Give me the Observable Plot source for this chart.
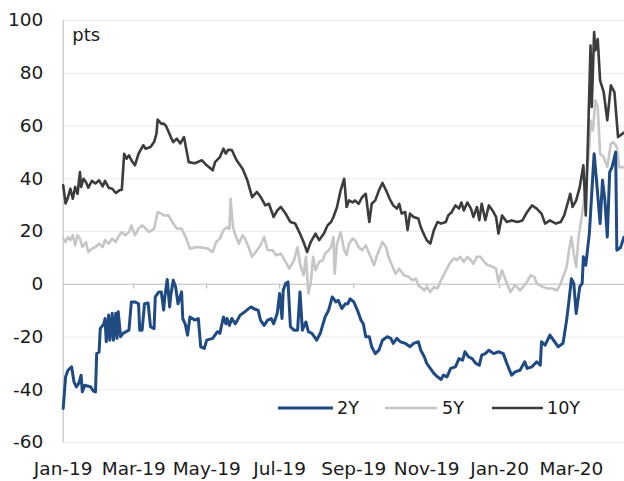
<!DOCTYPE html>
<html>
<head>
<meta charset="utf-8">
<script src="https://cdn.jsdelivr.net/npm/d3@7"></script>
<script src="https://cdn.jsdelivr.net/npm/@observablehq/plot@0.6"></script>
<style>
  html, body { margin: 0; padding: 0; background: #fff; }
  #chart { width: 624px; height: 481px; }
</style>
</head>
<body>
<div id="chart"></div>
<script>
// [day offset from 2019-01-01, spread in pts]
const startDate = "2019-01-01";
const endDay = 469.4;

const series10Y = [[0,37.5],[2,30.6],[4,33],[6,36.2],[8,32.4],[10,36.9],[12,34.3],[14,42.5],[15,36.9],[17,40],[19,38.8],[21,36.6],[24,39.2],[27,38.2],[30,39.4],[33,37.1],[35,39.2],[38,36.6],[41,36.2],[44,34.6],[47,35.6],[49,35.8],[51,49.5],[53,47.6],[55,48.9],[57,47],[60,45.1],[63,49.5],[67,52.7],[69,51.4],[73,52],[76,53.9],[78,57.1],[79,62.4],[82,60.9],[84,60.9],[86,60],[90,55.8],[92,53.9],[95,55.2],[98,53.4],[101,55.8],[105,46.3],[110,45.9],[116,47],[120,45.1],[125,43.2],[127,46.3],[131,48.2],[134,51.4],[136,49.5],[138,51],[141,50.9],[145,47],[150,43.8],[154,39.4],[158,33],[162,35],[165,33.2],[169,29.9],[172,30.5],[176,25.5],[179,28],[182,29.3],[186,26.8],[190,23.6],[194,23],[198,19.2],[201,16],[204,12.2],[207,16],[211,19.2],[214,16.7],[218,19.2],[221,22.3],[224,23.6],[226,25.5],[229,29.3],[232,35.6],[235,40],[237,29.3],[239,31.8],[242,31],[244,31.8],[247,30.5],[250,33],[253,34.3],[256,23.6],[258,30.5],[261,31.8],[264,35.6],[267,38.4],[270,35.6],[273,32.4],[276,29.9],[279,28.7],[281,30.5],[283,26.8],[286,27.4],[288,20.5],[290,26.8],[293,25.5],[297,24.9],[299,21.7],[302,18.6],[304,16.7],[307,15.4],[310,20.5],[313,23.6],[316,23],[320,23.6],[322,26.1],[325,27.4],[328,29.9],[331,28.7],[333,31],[335,28],[338,31],[341,28.7],[343,25.5],[346,29.3],[348,24.3],[350,30.5],[353,24.3],[356,29.9],[359,28],[362,25.5],[364,19.2],[367,26.1],[371,23.6],[375,24.2],[380,23.6],[384,24.2],[388,27.4],[392,29.9],[396,28.7],[400,26.8],[403,23],[407,24.2],[412,23],[416,23.6],[419,26.1],[421,29.3],[424,34.3],[426,29.3],[429,31.8],[432,36.9],[435,45.1],[437,26.1],[439,57.1],[441,90.5],[442,67.2],[444,95.6],[445,88.6],[447,93],[449,77.3],[452,72.8],[455,62.1],[458,75.4],[461,72.8],[464,55.8],[469,57.5]];

const series5Y = [[0,17.3],[2,16],[4,17.9],[6,16.7],[8,18.6],[10,14.8],[12,18.6],[14,17.3],[16,14.1],[19,16],[21,12.2],[24,13.5],[27,14.1],[30,15.4],[33,14.1],[35,16.7],[38,15.4],[41,17.3],[44,16],[46,17.9],[49,19.8],[52,18.6],[55,19.8],[57,22.3],[60,18.6],[63,21.1],[66,22.3],[69,21.1],[72,19.8],[76,21.1],[79,27.4],[82,26.8],[84,26.1],[88,26.1],[92,23],[95,21.1],[99,21.1],[103,17.3],[106,13.5],[112,14.1],[116,13.9],[121,13.5],[125,12.2],[128,16],[131,17.3],[134,20.5],[137,21.7],[139,21],[140,32.4],[142,21.7],[144,18.6],[147,15.4],[150,18.6],[152,17.3],[155,14.1],[158,10.4],[162,12.9],[165,14.8],[168,17.9],[171,12.9],[175,12.9],[178,11],[182,11.6],[186,8.5],[189,5.9],[193,9.1],[196,14.1],[198,7.8],[201,3.4],[203,10.4],[205,-3.5],[207,0.3],[209,10.4],[211,5.3],[214,8.5],[217,9.1],[219,11.6],[222,12.9],[224,14.1],[226,17.9],[227,4],[229,15.4],[232,19.8],[235,12.9],[237,11],[239,15.4],[242,17.3],[244,16.7],[247,14.1],[250,12.9],[253,14.8],[256,11.6],[260,7.2],[262,10.4],[267,16],[270,14.1],[272,10.4],[275,7.2],[278,4],[281,5.9],[285,3.4],[289,2.8],[292,1.5],[295,2.1],[297,-0.4],[302,-2.3],[304,-1],[307,-2.9],[310,-1],[313,-1.6],[316,1.5],[318,3.4],[321,5.9],[324,8.5],[327,9.8],[329,9.1],[332,10.4],[335,8.5],[338,10.4],[341,9.1],[343,7.8],[346,10.4],[349,10.4],[352,8.5],[355,7.2],[357,7.1],[362,5.9],[364,0.9],[367,5.3],[370,1.5],[374,-2.9],[378,-0.3],[382,-2.3],[387,0.3],[391,3.4],[394,2.8],[396,0.3],[401,-1],[405,-1.6],[409,-1.6],[413,-2.3],[416,0.3],[419,4],[421,6.6],[423,12.9],[425,17.9],[427,11.6],[429,6.6],[431,17.9],[434,26.8],[437,36.9],[440,52],[441,62.1],[443,58.3],[445,69.7],[447,67.2],[449,49.5],[452,48.2],[455,44.4],[458,53.3],[460,53.9],[463,52],[465,44.4],[469,44.4]];

const series2Y = [[0,-47.1],[2,-35.1],[4,-32.6],[7,-31.3],[9,-37],[11,-38.9],[13,-37.6],[15,-34.5],[16,-40.8],[18,-38.3],[23,-38.9],[25,-40.4],[27,-40.8],[28,-26.3],[30,-25.7],[31,-16.8],[34,-15],[35,-13],[36,-21.8],[38,-11.7],[39,-21.2],[41,-11],[42,-21.2],[44,-11],[45,-20.5],[46,-10.4],[48,-19.9],[50,-18.6],[55,-17.4],[57,-6.7],[60,-6.7],[63,-7.4],[64,-17.4],[66,-17.4],[68,-7.4],[71,-7.1],[73,-16.1],[76,-16.8],[77,-4.8],[80,-2.9],[82,-2.9],[84,-9.8],[85,-4.8],[87,1.8],[89,-8.6],[90,-4.2],[92,1.5],[94,-1],[96,-7.4],[99,-2.9],[100,-13],[102,-15],[104,-19.3],[106,-12.4],[110,-13.6],[113,-13],[115,-23.7],[118,-24.3],[120,-21.2],[125,-20.5],[129,-18],[131,-18.6],[134,-12.4],[136,-15],[137,-13],[139,-15.6],[141,-13],[144,-15],[148,-11.7],[152,-10.4],[157,-8.6],[161,-9.6],[163,-9.8],[165,-13.6],[168,-15.6],[171,-13.6],[174,-13],[176,-15],[179,-11],[181,-3.5],[183,-13],[184,-2.3],[186,0.3],[188,0.9],[190,-16.1],[193,-17.4],[196,-17.4],[198,-2.9],[200,-17.4],[203,-14.3],[205,-18],[208,-18.6],[212,-21.2],[215,-18.6],[219,-12.4],[222,-9.8],[225,-4.8],[228,-6.7],[230,-6.1],[233,-9.2],[236,-7.4],[238,-7.4],[240,-5.5],[243,-6.7],[246,-9.8],[249,-13.6],[251,-15],[253,-19.9],[256,-19.9],[258,-23.7],[261,-26.3],[264,-25],[267,-21.2],[271,-19.9],[274,-20.5],[276,-22.4],[279,-20.5],[282,-21.8],[286,-22.4],[290,-23.7],[293,-22.4],[297,-21.8],[299,-25],[302,-27.5],[304,-30],[307,-31.9],[310,-33.8],[313,-35.1],[316,-36.1],[318,-34.4],[321,-35.1],[324,-31.9],[328,-31.3],[331,-28.2],[334,-28.8],[336,-25.6],[339,-27.5],[342,-28.2],[345,-30],[348,-30.7],[350,-26.9],[353,-26.3],[356,-25],[360,-26.3],[364,-25.6],[368,-26.3],[371,-30],[375,-34.5],[378,-33.2],[382,-32.6],[386,-29.4],[388,-31.9],[392,-31.3],[396,-29.4],[399,-30.7],[400,-21.8],[403,-23.1],[407,-19.3],[411,-21.8],[414,-23.7],[418,-22.4],[421,-13.6],[423,-6.1],[425,2.1],[427,0.3],[429,-11.1],[432,-0.9],[434,0.3],[435,10.4],[437,7.2],[440,19.2],[441,26.8],[444,49.5],[446,39.4],[449,23],[451,39.4],[453,31.8],[455,17.9],[457,42.5],[459,44.4],[462,50.1],[463,12.9],[466,13.8],[469,17.9]];

const yTicks = [-60,-40,-20,0,20,40,60,80,100];
const seriesNames = ["2Y","5Y","10Y"];
const seriesColors = ["#1f4a82","#c6c6c6","#3c3c3c"];

const t0 = Date.parse(startDate + "T00:00:00Z");
const toDate = d => new Date(t0 + d * 864e5);
const build = (name, pairs) => pairs.map(([d, v]) => ({series: name, date: toDate(d), value: v}));
const d2 = build("2Y", series2Y);
const d5 = build("5Y", series5Y);
const d10 = build("10Y", series10Y);
const xDomain = [toDate(0), toDate(endDay)];
const xTicks = d3.utcMonth.every(2).range(toDate(0), toDate(endDay));

const font = "DejaVu Sans";
const chart = Plot.plot({
  width: 624,
  height: 481,
  marginLeft: 62.7,
  marginRight: 0,
  marginTop: 20,
  marginBottom: 39,
  style: {fontFamily: font, fontSize: "18px", color: "#1a1a1a", background: "#fff", overflow: "visible"},
  x: {type: "utc", domain: xDomain},
  y: {domain: [-60, 100]},
  marks: [
    Plot.ruleY(yTicks.filter(v => v !== 0), {stroke: "#ececec", strokeWidth: 1}),
    Plot.ruleY([0], {stroke: "#bdbdbd", strokeWidth: 1.2}),
    Plot.ruleX([toDate(0)], {stroke: "#c4c4c4", strokeWidth: 1.2}),
    Plot.ruleX(xTicks.slice(1), {y1: 0, y2: -1.8, stroke: "#bdbdbd", strokeWidth: 1.2}),
    Plot.axisY({ticks: yTicks, tickSize: 0, tickPadding: 20, fontSize: 18.5, label: null, tickFormat: d => String(d)}),
    Plot.axisX({ticks: xTicks, tickSize: 0, tickPadding: 19, fontSize: 18.5, label: null, tickFormat: d3.utcFormat("%b-%y")}),
    Plot.line(d5, {x: "date", y: "value", stroke: seriesColors[1], strokeWidth: 2.6, strokeLinejoin: "round"}),
    Plot.line(d10, {x: "date", y: "value", stroke: seriesColors[2], strokeWidth: 2.6, strokeLinejoin: "round"}),
    Plot.line(d2, {x: "date", y: "value", stroke: seriesColors[0], strokeWidth: 3, strokeLinejoin: "round"}),
    Plot.text(["pts"], {frameAnchor: "top-left", dx: 9, dy: 8, fontSize: 18, fill: "#1a1a1a"})
  ]
});

// legend inside the plot area
const svg = d3.select(chart);
const legendItems = [
  {name: seriesNames[0], color: seriesColors[0], x1: 278, x2: 333, tx: 337, w: 3},
  {name: seriesNames[1], color: seriesColors[1], x1: 385, x2: 437, tx: 442, w: 2.6},
  {name: seriesNames[2], color: seriesColors[2], x1: 492, x2: 543, tx: 547, w: 2.6}
];
const lg = svg.append("g").attr("font-family", font).attr("font-size", 17.5)
  .attr("fill", "#1a1a1a").attr("text-anchor", "start");
legendItems.forEach(it => {
  lg.append("line").attr("x1", it.x1).attr("x2", it.x2).attr("y1", 408).attr("y2", 408)
    .attr("stroke", it.color).attr("stroke-width", it.w);
  lg.append("text").attr("x", it.tx).attr("y", 408).attr("dy", "0.36em")
    .attr("text-anchor", "start").text(it.name);
});

document.getElementById("chart").appendChild(chart);
</script>
</body>
</html>
